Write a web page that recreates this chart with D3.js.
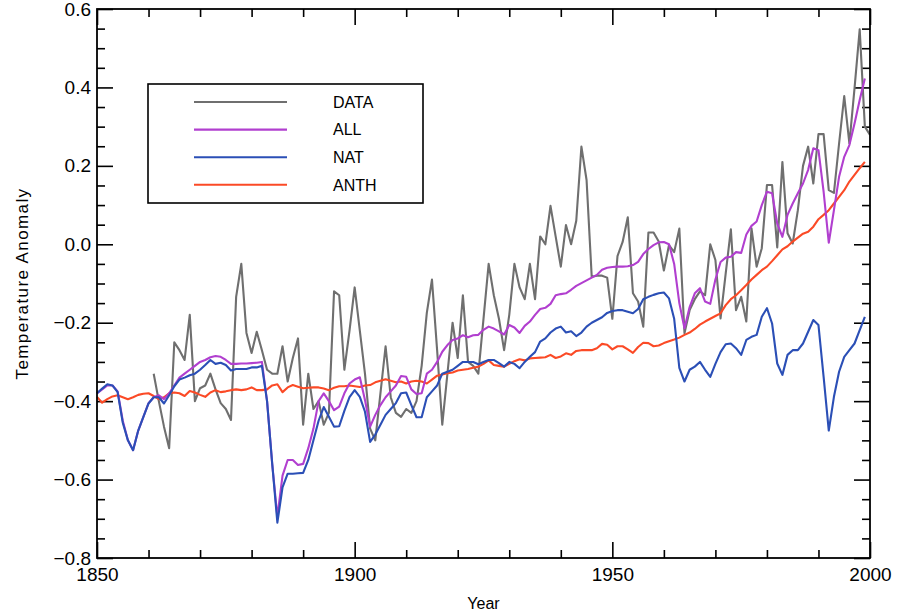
<!DOCTYPE html>
<html><head><meta charset="utf-8">
<script src="https://cdn.jsdelivr.net/npm/d3@7/dist/d3.min.js"></script>
<style>body{margin:0;background:#fff}svg{display:block}</style>
</head><body><svg id="c" width="907" height="612"></svg>
<script>
const modelStartYear = 1850;
const dataStartYear = 1861;
const seriesNames = ["DATA", "ALL", "NAT", "ANTH"];
const xTickLabels = [1850, 1900, 1950, 2000];
const yTickLabels = [-0.8, -0.6, -0.4, -0.2, 0.0, 0.2, 0.4, 0.6];

const DATA = [
 -0.33,-0.40,-0.465,-0.52,-0.25,-0.27,-0.295,-0.18,-0.40,
 -0.367,-0.36,-0.33,-0.37,-0.405,-0.42,-0.448,-0.134,-0.05,-0.226,
 -0.277,-0.223,-0.27,-0.32,-0.33,-0.33,-0.26,-0.35,-0.29,-0.24,
 -0.46,-0.33,-0.42,-0.40,-0.46,-0.43,-0.12,-0.13,-0.32,-0.22,
 -0.11,-0.22,-0.33,-0.47,-0.50,-0.38,-0.26,-0.39,-0.43,-0.44,
 -0.42,-0.43,-0.40,-0.31,-0.175,-0.09,-0.27,-0.46,-0.33,-0.20,
 -0.29,-0.13,-0.30,-0.31,-0.33,-0.19,-0.05,-0.13,-0.19,-0.27,
 -0.18,-0.05,-0.11,-0.14,-0.05,-0.14,0.02,0.0,0.098,0.02,
 -0.057,0.049,0.0,0.06,0.249,0.164,-0.083,-0.08,-0.08,-0.085,
 -0.19,-0.03,0.006,0.069,-0.125,-0.146,-0.21,0.03,0.03,0.007,
 -0.067,-0.002,-0.02,0.04,-0.227,-0.168,-0.14,-0.12,-0.13,0.0,
 -0.04,-0.189,-0.074,0.038,-0.168,-0.134,-0.197,0.041,-0.057,-0.01,
 0.151,0.151,-0.008,0.21,0.028,0.002,0.087,0.20,0.249,0.155,
 0.281,0.281,0.138,0.131,0.257,0.378,0.257,0.398,0.548,0.30,
 0.279
];

const ALL = [
 -0.38,-0.37,-0.36,-0.36,-0.375,-0.45,-0.50,-0.525,-0.475,-0.44,
 -0.405,-0.39,-0.385,-0.395,-0.38,-0.36,-0.34,-0.33,-0.32,-0.31,
 -0.30,-0.295,-0.288,-0.285,-0.287,-0.295,-0.305,-0.305,-0.304,-0.304,
 -0.303,-0.302,-0.30,-0.40,-0.56,-0.695,-0.59,-0.55,-0.55,-0.563,
 -0.56,-0.52,-0.47,-0.40,-0.38,-0.40,-0.423,-0.414,-0.38,-0.355,
 -0.345,-0.339,-0.397,-0.465,-0.435,-0.41,-0.39,-0.375,-0.36,-0.336,
 -0.338,-0.37,-0.382,-0.38,-0.33,-0.32,-0.30,-0.274,-0.257,-0.244,
 -0.24,-0.232,-0.237,-0.232,-0.231,-0.218,-0.21,-0.215,-0.222,-0.23,
 -0.206,-0.212,-0.226,-0.208,-0.197,-0.18,-0.165,-0.162,-0.152,-0.13,
 -0.127,-0.125,-0.116,-0.106,-0.099,-0.092,-0.085,-0.078,-0.065,-0.06,
 -0.058,-0.057,-0.057,-0.056,-0.053,-0.045,-0.025,-0.012,-0.002,0.005,
 0.006,0.0,-0.05,-0.15,-0.214,-0.16,-0.125,-0.112,-0.146,-0.152,
 -0.09,-0.045,-0.034,-0.032,-0.02,-0.022,0.025,0.047,0.058,0.10,
 0.134,0.13,0.053,0.019,0.075,0.104,0.13,0.155,0.19,0.245,
 0.24,0.134,0.004,0.087,0.172,0.223,0.253,0.308,0.368,0.423
];

const NAT = [
 -0.38,-0.368,-0.357,-0.36,-0.377,-0.455,-0.50,-0.525,-0.475,-0.44,
 -0.406,-0.39,-0.39,-0.406,-0.385,-0.362,-0.345,-0.34,-0.334,-0.33,
 -0.32,-0.308,-0.295,-0.305,-0.302,-0.308,-0.322,-0.318,-0.318,-0.318,
 -0.314,-0.314,-0.31,-0.40,-0.56,-0.71,-0.62,-0.585,-0.585,-0.584,
 -0.583,-0.55,-0.50,-0.45,-0.415,-0.44,-0.465,-0.464,-0.425,-0.39,
 -0.372,-0.389,-0.427,-0.504,-0.485,-0.46,-0.435,-0.42,-0.405,-0.38,
 -0.378,-0.41,-0.441,-0.441,-0.39,-0.375,-0.36,-0.33,-0.325,-0.32,
 -0.31,-0.30,-0.30,-0.30,-0.306,-0.30,-0.295,-0.295,-0.303,-0.312,
 -0.30,-0.305,-0.316,-0.30,-0.287,-0.275,-0.248,-0.24,-0.225,-0.215,
 -0.21,-0.225,-0.222,-0.234,-0.225,-0.21,-0.20,-0.193,-0.186,-0.175,
 -0.17,-0.168,-0.168,-0.172,-0.176,-0.165,-0.14,-0.134,-0.129,-0.125,
 -0.123,-0.138,-0.19,-0.315,-0.35,-0.32,-0.312,-0.30,-0.32,-0.338,
 -0.305,-0.275,-0.255,-0.253,-0.265,-0.282,-0.244,-0.236,-0.231,-0.185,
 -0.163,-0.202,-0.304,-0.333,-0.282,-0.27,-0.27,-0.253,-0.223,-0.193,
 -0.206,-0.338,-0.475,-0.389,-0.325,-0.287,-0.27,-0.253,-0.219,-0.185
];

const ANTH = [
 -0.389,-0.404,-0.395,-0.388,-0.385,-0.39,-0.395,-0.39,-0.384,-0.381,
 -0.38,-0.387,-0.395,-0.39,-0.38,-0.378,-0.38,-0.387,-0.374,-0.378,
 -0.384,-0.389,-0.378,-0.372,-0.377,-0.375,-0.372,-0.37,-0.372,-0.37,
 -0.365,-0.372,-0.372,-0.37,-0.36,-0.357,-0.377,-0.365,-0.359,-0.363,
 -0.367,-0.366,-0.365,-0.365,-0.368,-0.372,-0.366,-0.362,-0.362,-0.36,
 -0.362,-0.364,-0.36,-0.359,-0.352,-0.348,-0.344,-0.348,-0.352,-0.35,
 -0.355,-0.35,-0.348,-0.35,-0.355,-0.345,-0.335,-0.332,-0.329,-0.327,
 -0.322,-0.32,-0.318,-0.315,-0.312,-0.305,-0.296,-0.308,-0.31,-0.312,
 -0.305,-0.298,-0.293,-0.296,-0.291,-0.29,-0.289,-0.288,-0.282,-0.29,
 -0.286,-0.278,-0.282,-0.272,-0.27,-0.27,-0.27,-0.265,-0.254,-0.256,
 -0.268,-0.26,-0.26,-0.268,-0.277,-0.262,-0.251,-0.252,-0.26,-0.258,
 -0.252,-0.247,-0.243,-0.238,-0.231,-0.225,-0.216,-0.205,-0.197,-0.19,
 -0.183,-0.176,-0.155,-0.14,-0.13,-0.117,-0.104,-0.09,-0.078,-0.066,
 -0.057,-0.043,-0.028,-0.013,-0.005,0.007,0.017,0.027,0.032,0.045,
 0.064,0.075,0.087,0.104,0.121,0.138,0.16,0.177,0.194,0.21
];

const colors = {DATA:"#6f6f6f", ALL:"#b13fcf", NAT:"#2b4fb6", ANTH:"#fb4a26"};

const L = 97, R = 870, T = 9, B = 558;
const FONT = "'Liberation Sans', Arial, Helvetica, sans-serif";
const svg = d3.select("#c");
const x = d3.scaleLinear().domain([1850, 2000]).range([L, R]);
const y = d3.scaleLinear().domain([-0.8, 0.6]).range([B, T]);

const fmtY = v => (v < 0 ? "\u2212" : "") + Math.abs(v).toFixed(1);

// minor ticks
const minorX = d3.range(1850, 2001, 10).filter(v => v % 50 !== 0);
const minorY = d3.range(-16, 13).map(k => k * 0.05).filter((v, i) => (i % 4) !== 0);

function styleAxis(g){ g.select(".domain").remove(); g.selectAll("line").attr("stroke","#000").attr("stroke-width",1.6); g.selectAll("text").attr("font-family",FONT).attr("font-size",19).attr("fill","#000"); }

svg.append("g").attr("transform",`translate(0,${B})`)
  .call(d3.axisBottom(x).tickValues(xTickLabels).tickSize(-16).tickPadding(10).tickFormat(d3.format("d"))).call(styleAxis);
svg.append("g").attr("transform",`translate(0,${B})`)
  .call(d3.axisBottom(x).tickValues(minorX).tickSize(-8).tickFormat("")).call(styleAxis);
svg.append("g").attr("transform",`translate(0,${T})`)
  .call(d3.axisTop(x).tickValues(xTickLabels).tickSize(-16).tickFormat("")).call(styleAxis);
svg.append("g").attr("transform",`translate(0,${T})`)
  .call(d3.axisTop(x).tickValues(minorX).tickSize(-8).tickFormat("")).call(styleAxis);

svg.append("g").attr("transform",`translate(${L},0)`)
  .call(d3.axisLeft(y).tickValues(yTickLabels).tickSize(-16).tickPadding(6).tickFormat(fmtY)).call(styleAxis);
svg.append("g").attr("transform",`translate(${L},0)`)
  .call(d3.axisLeft(y).tickValues(minorY).tickSize(-8).tickFormat("")).call(styleAxis);
svg.append("g").attr("transform",`translate(${R},0)`)
  .call(d3.axisRight(y).tickValues(yTickLabels).tickSize(-16).tickFormat("")).call(styleAxis);
svg.append("g").attr("transform",`translate(${R},0)`)
  .call(d3.axisRight(y).tickValues(minorY).tickSize(-8).tickFormat("")).call(styleAxis);

// series lines
const line = d3.line().x(d => x(d[0])).y(d => y(d[1]));
const toPts = (arr, start) => arr.map((v,i) => [start + i, v]);
const series = [
  {name:"DATA", pts: toPts(DATA, dataStartYear)},
  {name:"ANTH", pts: toPts(ANTH, modelStartYear)},
  {name:"ALL", pts: toPts(ALL, modelStartYear)},
  {name:"NAT", pts: toPts(NAT, modelStartYear)}
];
svg.append("g").selectAll("path").data(series).join("path")
  .attr("d", d => line(d.pts)).attr("fill","none")
  .attr("stroke", d => colors[d.name]).attr("stroke-width",2.1)
  .attr("stroke-linejoin","round");

// frame
svg.append("rect").attr("x",L).attr("y",T).attr("width",R-L).attr("height",B-T)
  .attr("fill","none").attr("stroke","#000").attr("stroke-width",1.8);

// legend
const lg = svg.append("g");
lg.append("rect").attr("x",148).attr("y",84).attr("width",275).attr("height",119)
  .attr("fill","#fff").attr("stroke","#000").attr("stroke-width",1.6);
seriesNames.forEach((n,i) => {
  const yy = 102 + i*27.6;
  lg.append("line").attr("x1",194).attr("x2",287).attr("y1",yy).attr("y2",yy)
    .attr("stroke",colors[n]).attr("stroke-width",2.1);
  lg.append("text").attr("x",333).attr("y",yy).attr("dy","0.36em")
    .attr("font-family",FONT).attr("font-size",16).text(n);
});

// axis titles
svg.append("text").attr("x",(L+R)/2).attr("y",609).attr("text-anchor","middle")
  .attr("font-family",FONT).attr("font-size",16).text("Year");
svg.append("text").attr("transform",`translate(28,${(T+B)/2}) rotate(-90)`)
  .attr("text-anchor","middle").attr("font-family",FONT).attr("font-size",17)
  .attr("letter-spacing","1.4").text("Temperature  Anomaly");
</script></body></html>
